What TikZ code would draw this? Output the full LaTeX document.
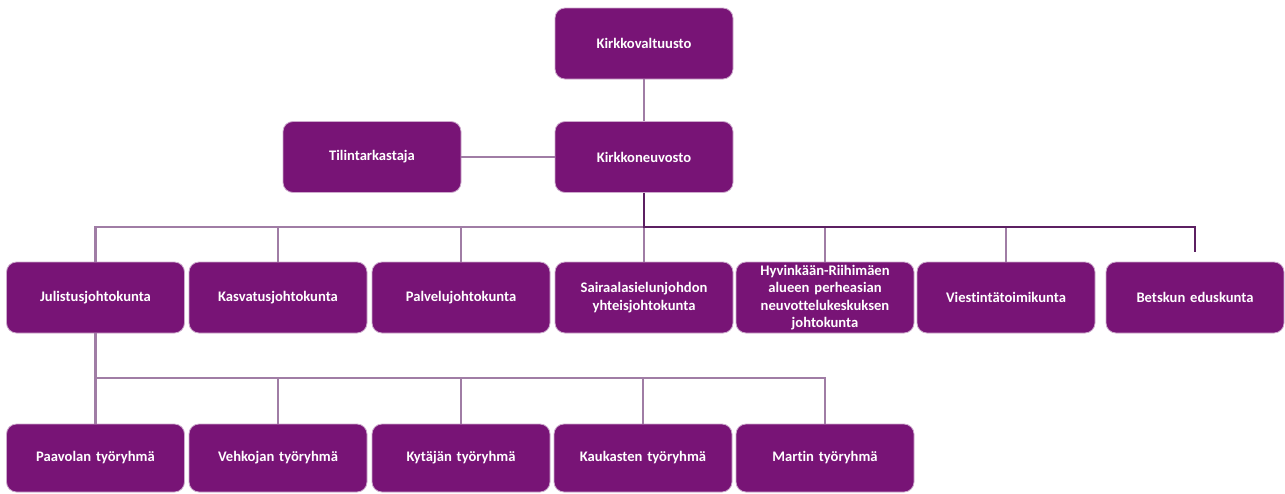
\documentclass[tikz,border=0pt]{standalone}
\usepackage{fontspec}
\setmainfont{Carlito}[Ligatures={NoCommon}]
\definecolor{boxfill}{RGB}{120,20,118}
\definecolor{boxedge}{RGB}{205,170,205}
\definecolor{litecon}{RGB}{160,125,165}
\definecolor{darkcon}{RGB}{92,32,98}
\tikzset{
  orgbox/.style={rectangle, rounded corners=10pt, fill=boxfill, draw=boxedge, line width=0.8pt,
    minimum width=178pt, minimum height=71pt, text width=172pt, align=center, inner sep=0pt,
    text=white, font=\bfseries\fontsize{14.6}{17.5}\selectfont},
  lowbox/.style={orgbox, minimum height=68pt},
  litecon/.style={draw=litecon, line width=2.6pt},
  darkcon/.style={draw=darkcon, line width=2.8pt}
}
\begin{document}
\begin{tikzpicture}[x=1pt,y=-1pt]
\useasboundingbox[fill=white] (0,0) rectangle (1285,493);
% top
\node[orgbox] (kv) at (644,43.5) {Kirkkovaltuusto};
\node[orgbox] (kn) at (644,157) {Kirkkoneuvosto};
\node[orgbox] (tt) at (372,157) {Tilintarkastaja};
% middle row
\node[orgbox] (jul) at (95.5,297.5) {Julistusjohtokunta};
\node[orgbox] (kas) at (278,297.5) {Kasvatusjohtokunta};
\node[orgbox] (pal) at (461,297.5) {Palvelujohtokunta};
\node[orgbox] (sai) at (644,297.5) {Sairaalasielunjohdon\\yhteisjohtokunta};
\node[orgbox] (hyv) at (825,297.5) {Hyvinkään-Riihimäen\\alueen perheasian\\neuvottelukeskuksen\\johtokunta};
\node[orgbox] (vie) at (1006,297.5) {Viestintätoimikunta};
\node[orgbox] (bet) at (1195,297.5) {Betskun eduskunta};
% bottom row
\node[lowbox] (paa) at (95.5,458) {Paavolan työryhmä};
\node[lowbox] (veh) at (278,458) {Vehkojan työryhmä};
\node[lowbox] (kyt) at (461,458) {Kytäjän työryhmä};
\node[lowbox] (kau) at (643,458) {Kaukasten työryhmä};
\node[lowbox] (mar) at (825,458) {Martin työryhmä};
% bus coordinates
\coordinate (busA) at (0,227);
\coordinate (busB) at (0,378);
% connectors
\draw[litecon] (kv.south) -- (kn.north);
\draw[litecon] (tt.east) -- (kn.west);
\draw[litecon] (jul.north) -- (jul.north |- busA) -- (vie.north |- busA) -- (vie.north);
\foreach \n in {kas,pal,sai,hyv} \draw[litecon] (\n.north |- busA) -- (\n.north);
\draw[darkcon] (kn.south) -- (kn.south |- busA) -| ([yshift=10pt]bet.north);
\draw[litecon] (jul.south) -- (jul.south |- busB) -- (mar.north |- busB) -- (mar.north);
\foreach \n in {paa,veh,kyt,kau} \draw[litecon] (\n.north |- busB) -- (\n.north);
\end{tikzpicture}
\end{document}
